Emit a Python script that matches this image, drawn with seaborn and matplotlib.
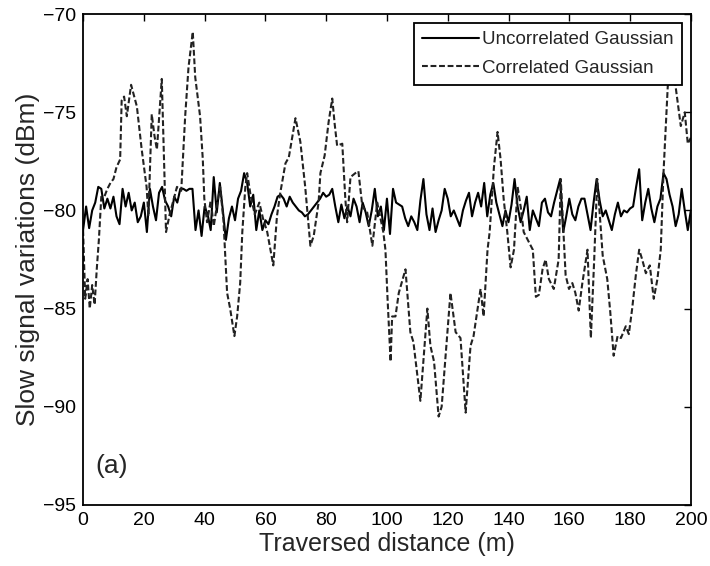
import numpy as np
import pandas as pd
import matplotlib
matplotlib.use("Agg")
import matplotlib.pyplot as plt
import seaborn as sns

# distance axis for the uncorrelated series (1 m steps)
dist_uncorr = list(range(0, 201))
# uncorrelated Gaussian shadowing, dBm
uncorr_db = [
    -81.0, -79.8, -80.9, -80.0, -79.6, -78.8, -78.9, -79.9, -79.4, -79.9,
    -79.3, -80.3, -80.7, -78.9, -79.8, -79.1, -80.0, -79.6, -80.6, -80.3,
    -79.6, -81.1, -78.9, -79.8, -80.5, -79.1, -78.8, -79.5, -79.8, -80.3,
    -79.3, -79.6, -78.9, -78.9, -79.0, -78.9, -78.9, -81.0, -80.0, -81.3,
    -79.8, -80.2, -81.0, -78.3, -80.1, -78.6, -80.0, -81.5, -80.4, -79.8,
    -80.5, -79.4, -79.0, -78.1, -78.6, -79.8, -79.2, -81.0, -80.0, -81.0,
    -80.5, -80.7, -80.2, -79.8, -79.3, -79.2, -79.4, -79.8, -79.3, -79.6,
    -79.8, -80.0, -80.1, -80.3, -80.2, -80.0, -79.8, -79.6, -79.4, -79.1,
    -79.3, -79.2, -78.9, -79.8, -80.6, -79.7, -80.4, -79.8, -80.3, -79.4,
    -79.8, -80.6, -79.6, -80.1, -80.8, -80.0, -78.9, -80.3, -79.8, -81.0,
    -79.4, -81.2, -78.9, -79.6, -79.7, -79.8, -80.4, -80.8, -80.3, -80.6,
    -81.0, -79.5, -78.4, -80.2, -81.0, -79.9, -81.1, -80.5, -80.0, -78.9,
    -79.4, -80.3, -80.0, -80.4, -80.8, -80.0, -79.5, -79.1, -80.3, -79.6,
    -79.1, -79.8, -78.6, -80.3, -79.2, -78.6, -79.6, -80.2, -80.8, -80.0,
    -80.6, -79.7, -78.4, -79.8, -80.6, -80.0, -79.3, -81.0, -80.0, -80.4,
    -80.8, -79.6, -79.4, -80.1, -80.3, -79.6, -79.0, -78.4, -81.1, -80.3,
    -79.4, -80.2, -80.5, -79.8, -79.4, -79.4, -80.2, -81.0, -79.6, -78.4,
    -79.5, -80.3, -80.0, -80.5, -81.0, -80.2, -79.6, -80.3, -80.0, -80.1,
    -79.9, -79.8, -78.8, -77.9, -80.5, -79.6, -78.9, -79.9, -80.6, -79.8,
    -79.4, -78.1, -78.4, -79.2, -79.8, -80.8, -80.2, -78.9, -80.0, -81.0,
    -80.0,
]

# correlated Gaussian shadowing, traced vertices (m, dBm)
dist_corr = [
    0, 0.7, 1.5, 2.2, 3, 3.8, 4.5, 5.2, 6, 7, 8, 9, 10, 11, 12.2, 12.7,
    13.5, 14.4, 15.8, 17.7, 19.3, 20.9, 21.5, 22.6, 23.5, 24.3, 25.9, 27.3,
    28.5, 30.9, 32.3, 33.6, 34.7, 36.1, 36.9, 38.5, 39.4, 39.9, 40.8, 42,
    43, 44, 45.1, 46.2, 47.4, 48.4, 49.8, 50.7, 51.7, 52.4, 53.4, 54, 55.2,
    56.5, 58, 59.2, 60.6, 62.6, 63.8, 64.9, 66.6, 67.7, 69.9, 71.5, 73.1,
    74.8, 75.9, 77.5, 78.1, 79.5, 80.8, 82, 82.8, 83.6, 85.3, 86.3, 86.9,
    88, 89.6, 90.6, 91.9, 93.5, 95.2, 96.8, 98.8, 99.5, 100.2, 101.2,
    101.7, 102.8, 103.9, 106.1, 107.7, 108.7, 111, 113.3, 114.3, 115.5,
    117, 118, 120.9, 122.6, 124.2, 125.9, 127.5, 128.5, 130.8, 131.8,
    133.1, 133.8, 135.2, 136.4, 137.4, 138.4, 139.6, 140.7, 141.8, 143,
    144, 145, 148, 149, 150, 151.2, 152.2, 153.3, 154.9, 156.5, 157.2,
    158.8, 159.9, 161, 162, 163.1, 164.3, 166, 167.1, 168.2, 169.2, 171,
    172.5, 173.5, 174.6, 175.9, 177, 178.6, 179.6, 180.7, 181.9, 183, 184,
    185.2, 186.5, 187.8, 189, 190.1, 191, 192.4, 193.5, 194.2, 195, 196,
    196.7, 198, 199, 200,
]
corr_db = [
    -81.0, -84.5, -83.5, -85.0, -83.8, -84.8, -83.0, -81.5, -79.3, -79.3,
    -78.9, -78.6, -78.4, -77.8, -77.4, -74.4, -74.2, -75.2, -73.6, -74.7,
    -76.9, -78.8, -80.3, -75.1, -76.2, -76.9, -73.3, -81.1, -80.2, -78.8,
    -79.0, -75.2, -72.7, -70.9, -73.2, -75.2, -77.4, -79.4, -80.6, -79.5,
    -80.8, -79.8, -78.8, -80.5, -84.2, -85.0, -86.4, -85.4, -83.7, -81.1,
    -78.8, -78.1, -79.3, -80.2, -79.6, -80.4, -81.1, -82.8, -80.3, -79.1,
    -77.6, -77.3, -75.3, -76.5, -78.8, -81.8, -81.3, -79.6, -78.1, -77.2,
    -75.5, -74.3, -75.6, -76.7, -76.6, -79.4, -80.6, -78.3, -78.1, -78.0,
    -79.8, -80.1, -81.8, -79.6, -81.1, -82.0, -84.5, -87.7, -85.4, -85.4,
    -84.2, -83.0, -86.2, -86.7, -89.7, -85.0, -86.9, -87.7, -90.5, -90.0,
    -84.2, -86.2, -86.5, -90.3, -86.9, -86.4, -84.0, -85.4, -82.0, -81.1,
    -77.8, -76.0, -77.4, -79.4, -81.1, -82.9, -82.0, -78.8, -79.8, -81.1,
    -82.0, -84.4, -84.3, -83.0, -82.5, -83.5, -84.0, -82.5, -78.4, -83.3,
    -84.0, -83.7, -84.2, -85.1, -83.7, -82.0, -86.5, -82.5, -78.4, -82.3,
    -83.5, -85.2, -87.4, -86.4, -86.5, -85.9, -86.3, -85.0, -83.3, -82.0,
    -82.5, -83.2, -82.8, -84.5, -83.5, -82.0, -78.1, -73.7, -72.3, -73.0,
    -73.7, -74.9, -75.7, -75.0, -76.6, -76.3,
]

x_ticks = [0, 20, 40, 60, 80, 100, 120, 140, 160, 180, 200]
y_ticks = [-95, -90, -85, -80, -75, -70]

df_u = pd.DataFrame({"dist": dist_uncorr, "db": uncorr_db})
df_c = pd.DataFrame({"dist": dist_corr, "db": corr_db})

sns.set_theme(style="white")
plt.rcParams["font.family"] = ["Liberation Sans", "DejaVu Sans"]
plt.rcParams["axes.unicode_minus"] = True

fig = plt.figure(figsize=(7.10, 5.66), dpi=100)
ax = fig.add_axes([0.117, 0.108, 0.856, 0.867])

sns.lineplot(data=df_u, x="dist", y="db", color="black", linewidth=1.5,
             estimator=None, ax=ax, label="Uncorrelated Gaussian")
sns.lineplot(data=df_c, x="dist", y="db", color="#222222", linewidth=1.5,
             estimator=None, ax=ax, label="Correlated Gaussian")
ax.lines[1].set_dashes([2.8, 1.3])

ax.set_xlim(0, 200)
ax.set_ylim(-95, -70)
ax.set_xticks(x_ticks)
ax.set_yticks(y_ticks)
ax.tick_params(direction="in", length=5, width=1, top=True, right=True,
               labelsize=14, colors="black", pad=5)
for s in ax.spines.values():
    s.set_color("black")
    s.set_linewidth(1.3)

ax.set_xlabel("Traversed distance (m)", fontsize=18, labelpad=2)
ax.set_ylabel("Slow signal variations (dBm)", fontsize=19, labelpad=2)

leg = ax.legend(loc="upper right", fontsize=13.5, frameon=True, fancybox=False,
                edgecolor="black", framealpha=1, handlelength=3.0,
                handletextpad=0.2, borderaxespad=0.45, borderpad=0.45,
                labelspacing=0.6)
leg.get_frame().set_linewidth(1.3)
leg.set_zorder(5)

ax.text(0.02, 0.08, "(a)", transform=ax.transAxes, fontsize=19,
        va="center", ha="left")

fig.savefig("out.png", dpi=100)
